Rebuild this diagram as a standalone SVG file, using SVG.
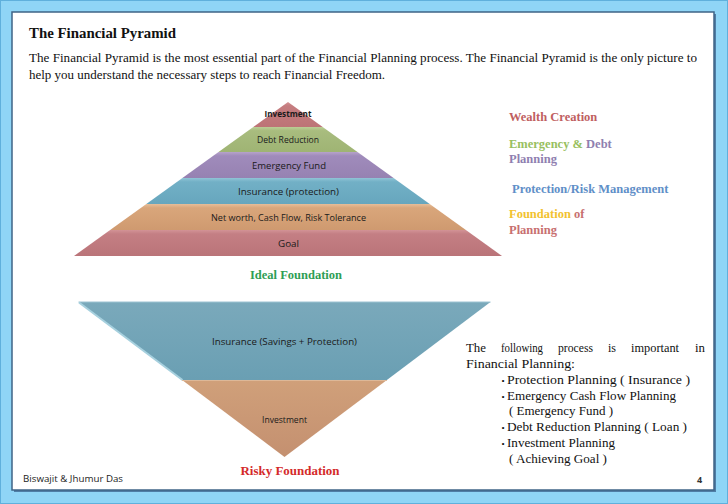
<svg xmlns="http://www.w3.org/2000/svg" width="728" height="504" viewBox="0 0 728 504">
<defs>
<style>
.serif{font-family:"Liberation Serif","Times New Roman",serif}
.sans{font-family:"Open Sans","Liberation Sans",Arial,sans-serif}
.lbl{font-family:"Open Sans","Liberation Sans",Arial,sans-serif;font-size:8.5px;fill:#1a1a1a;text-anchor:middle}
.body{font-family:"Liberation Serif","Times New Roman",serif;font-size:13px;fill:#111}
.bul{font-family:"Liberation Serif","Times New Roman",serif;font-size:9px;fill:#111}
.side{font-family:"Liberation Serif","Times New Roman",serif;font-size:12.5px;font-weight:bold}
.band{stroke:none}
</style>
<linearGradient id="gInv" x1="0" y1="0" x2="0" y2="1"><stop offset="0" stop-color="#d49294"/><stop offset="0.15" stop-color="#c57d80"/><stop offset="1" stop-color="#bd7376"/></linearGradient>
<linearGradient id="gDebt" x1="0" y1="0" x2="0" y2="1"><stop offset="0" stop-color="#bccd95"/><stop offset="0.15" stop-color="#a8bc7e"/><stop offset="1" stop-color="#9fb474"/></linearGradient>
<linearGradient id="gEmg" x1="0" y1="0" x2="0" y2="1"><stop offset="0" stop-color="#b6a3ca"/><stop offset="0.15" stop-color="#a08bbb"/><stop offset="1" stop-color="#9682b2"/></linearGradient>
<linearGradient id="gIns" x1="0" y1="0" x2="0" y2="1"><stop offset="0" stop-color="#90c4d6"/><stop offset="0.15" stop-color="#72b0c6"/><stop offset="1" stop-color="#67a6bd"/></linearGradient>
<linearGradient id="gNet" x1="0" y1="0" x2="0" y2="1"><stop offset="0" stop-color="#e6bd98"/><stop offset="0.15" stop-color="#d9a67b"/><stop offset="1" stop-color="#cf9a70"/></linearGradient>
<linearGradient id="gGoal" x1="0" y1="0" x2="0" y2="1"><stop offset="0" stop-color="#d29396"/><stop offset="0.15" stop-color="#c47f84"/><stop offset="1" stop-color="#ba7479"/></linearGradient>
<linearGradient id="gRisk" x1="0" y1="0" x2="0" y2="1"><stop offset="0" stop-color="#7aa9bb"/><stop offset="1" stop-color="#6a9fb3"/></linearGradient>
<linearGradient id="gRinv" x1="0" y1="0" x2="0" y2="1"><stop offset="0" stop-color="#d0a07a"/><stop offset="1" stop-color="#c49070"/></linearGradient>
</defs>

<!-- frame -->
<rect x="0" y="0" width="728" height="504" fill="#8fd5f6"/>
<rect x="0.5" y="0.5" width="727" height="503" fill="none" stroke="#5fb0dc" stroke-width="1"/>
<rect x="14" y="14" width="702" height="478" fill="#4f7ea6"/>
<rect x="12" y="12" width="702" height="478" fill="#ffffff" stroke="#3f6487" stroke-width="1.5"/>

<!-- header -->
<text class="serif" x="29" y="38" font-size="14" font-weight="bold" fill="#111" textLength="147" lengthAdjust="spacingAndGlyphs">The Financial Pyramid</text>
<text class="serif" x="29" y="62" font-size="12.5" fill="#111" textLength="668" lengthAdjust="spacingAndGlyphs">The Financial Pyramid is the most essential part of the Financial Planning process. The Financial Pyramid is the only picture to</text>
<text class="serif" x="29" y="79" font-size="12.5" fill="#111" textLength="356" lengthAdjust="spacingAndGlyphs">help you understand the necessary steps to reach Financial Freedom.</text>

<!-- ideal pyramid -->
<g id="ideal-pyramid">
<g id="layer-investment">
<polygon class="band" points="288,102 322.7,127 253.3,127" fill="url(#gInv)"/>
<text class="lbl" x="288" y="117" font-weight="bold" textLength="47" lengthAdjust="spacingAndGlyphs">Investment</text>
</g>
<g id="layer-debt">
<polygon class="band" points="253.3,127 322.7,127 357.5,152 218.5,152" fill="url(#gDebt)"/>
<text class="lbl" x="288" y="142.5" textLength="62" lengthAdjust="spacingAndGlyphs">Debt Reduction</text>
</g>
<g id="layer-emergency">
<polygon class="band" points="218.5,152 357.5,152 393.6,178 182.4,178" fill="url(#gEmg)"/>
<text class="lbl" x="289" y="168.5" textLength="74" lengthAdjust="spacingAndGlyphs">Emergency Fund</text>
</g>
<g id="layer-insurance">
<polygon class="band" points="182.4,178 393.6,178 429.7,204 146.3,204" fill="url(#gIns)"/>
<text class="lbl" x="288.5" y="194.5" textLength="101" lengthAdjust="spacingAndGlyphs">Insurance (protection)</text>
</g>
<g id="layer-networth">
<polygon class="band" points="146.3,204 429.7,204 465.9,230 110.1,230" fill="url(#gNet)"/>
<text class="lbl" x="288.5" y="220.5" textLength="155" lengthAdjust="spacingAndGlyphs">Net worth, Cash Flow, Risk Tolerance</text>
</g>
<g id="layer-goal">
<polygon class="band" points="110.1,230 465.9,230 502,256 74,256" fill="url(#gGoal)"/>
<text class="lbl" x="288.5" y="246.5" textLength="21" lengthAdjust="spacingAndGlyphs">Goal</text>
</g>
</g>
<text class="serif" x="296" y="279" font-size="12.5" font-weight="bold" fill="#2e9e55" text-anchor="middle">Ideal Foundation</text>

<!-- side labels -->
<g id="side-labels">
<text class="side" x="509" y="121" fill="#c0605f">Wealth Creation</text>
<text class="side" x="509" y="148"><tspan fill="#98c060">Emergency &amp; </tspan><tspan fill="#8f7fb0">Debt</tspan></text>
<text class="side" x="509" y="163" fill="#8f7fb0">Planning</text>
<text class="side" x="512" y="193" fill="#5f8fc8">Protection/Risk Management</text>
<text class="side" x="509" y="218"><tspan fill="#f2c230">Foundation </tspan><tspan fill="#c87070">of</tspan></text>
<text class="side" x="509" y="234" fill="#c87070">Planning</text>
</g>

<!-- risky (inverted) pyramid -->
<g id="risky-pyramid">
<g id="risky-insurance">
<polygon class="band" points="78.5,302 490.5,302 386.9,380 182.1,380" fill="url(#gRisk)"/>
<line x1="78.5" y1="302" x2="490.5" y2="302" stroke="#9cc3d2" stroke-width="1"/>
<line x1="79" y1="302.5" x2="182.5" y2="380" stroke="#a6d0de" stroke-width="2"/>
<text class="lbl" x="284.5" y="345" textLength="145" lengthAdjust="spacingAndGlyphs">Insurance (Savings + Protection)</text>
</g>
<g id="risky-investment">
<polygon class="band" points="182.1,380 386.9,380 284.5,457" fill="url(#gRinv)"/>
<line x1="182.1" y1="380.5" x2="386.9" y2="380.5" stroke="#ddb898" stroke-width="1"/>
<text class="lbl" x="284.5" y="423" textLength="45" lengthAdjust="spacingAndGlyphs">Investment</text>
</g>
</g>
<text class="serif" x="290" y="475" font-size="13" font-weight="bold" fill="#d42a2a" text-anchor="middle" textLength="99" lengthAdjust="spacingAndGlyphs">Risky Foundation</text>

<!-- process text -->
<g id="process-text">
<text class="body" x="466" y="352" textLength="20" lengthAdjust="spacingAndGlyphs">The</text>
<text class="body" x="501" y="352" textLength="42" lengthAdjust="spacingAndGlyphs">following</text>
<text class="body" x="558" y="352" textLength="35" lengthAdjust="spacingAndGlyphs">process</text>
<text class="body" x="608" y="352" textLength="8" lengthAdjust="spacingAndGlyphs">is</text>
<text class="body" x="631" y="352" textLength="48" lengthAdjust="spacingAndGlyphs">important</text>
<text class="body" x="695" y="352" textLength="10" lengthAdjust="spacingAndGlyphs">in</text>
<text class="body" x="466" y="368" textLength="109" lengthAdjust="spacingAndGlyphs">Financial Planning:</text>
<text class="bul" x="501.5" y="384">•</text>
<text class="body" x="507" y="384" textLength="183" lengthAdjust="spacingAndGlyphs">Protection Planning ( Insurance )</text>
<text class="bul" x="501.5" y="400">•</text>
<text class="body" x="507" y="400" textLength="169" lengthAdjust="spacingAndGlyphs">Emergency Cash Flow Planning</text>
<text class="body" x="509" y="415" textLength="104" lengthAdjust="spacingAndGlyphs">( Emergency Fund )</text>
<text class="bul" x="501.5" y="431">•</text>
<text class="body" x="507" y="431" textLength="180" lengthAdjust="spacingAndGlyphs">Debt Reduction Planning ( Loan )</text>
<text class="bul" x="501.5" y="447">•</text>
<text class="body" x="507" y="447" textLength="108" lengthAdjust="spacingAndGlyphs">Investment Planning</text>
<text class="body" x="509" y="463" textLength="98" lengthAdjust="spacingAndGlyphs">( Achieving Goal )</text>
</g>

<!-- footer -->
<text class="sans" x="23" y="482" font-size="9.5" fill="#222" textLength="100" lengthAdjust="spacingAndGlyphs">Biswajit &amp; Jhumur Das</text>
<text class="sans" x="697" y="483" font-size="9" font-weight="bold" fill="#333">4</text>
</svg>
